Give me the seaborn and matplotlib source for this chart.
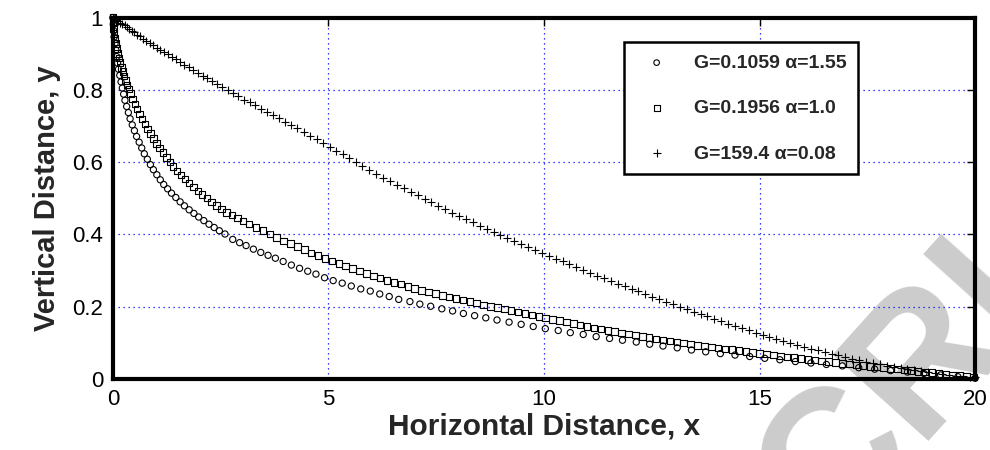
import numpy as np
import pandas as pd
import seaborn as sns
import matplotlib.pyplot as plt

# readings (x = horizontal distance, y = vertical distance)
circ_x = [0.00, 0.01, 0.02, 0.03, 0.05, 0.07, 0.09, 0.11, 0.13, 0.16,
          0.19, 0.22, 0.25, 0.28, 0.32, 0.36, 0.40, 0.45, 0.50, 0.55,
          0.61, 0.67, 0.73, 0.80, 0.87, 0.94, 1.02, 1.10, 1.18, 1.27,
          1.36, 1.46, 1.56, 1.66, 1.77, 1.88, 1.99, 2.11, 2.23, 2.35,
          2.47, 2.60, 2.78, 2.94, 3.09, 3.26, 3.43, 3.60, 3.77, 3.95,
          4.14, 4.33, 4.52, 4.71, 4.91, 5.11, 5.32, 5.53, 5.75, 5.97,
          6.19, 6.41, 6.63, 6.89, 7.12, 7.37, 7.63, 7.88, 8.13, 8.39,
          8.65, 8.91, 9.19, 9.47, 9.75, 10.03, 10.33, 10.61, 10.91, 11.21,
          11.52, 11.82, 12.14, 12.45, 12.76, 13.09, 13.42, 13.75, 14.09, 14.43,
          14.77, 15.12, 15.47, 15.83, 16.19, 16.55, 16.92, 17.30, 17.67, 18.04,
          18.43, 18.81, 19.20, 19.60, 20.00]
circ_y = [1.000, 0.982, 0.964, 0.946, 0.928, 0.910, 0.892, 0.874, 0.857, 0.840,
          0.822, 0.805, 0.788, 0.771, 0.754, 0.737, 0.720, 0.703, 0.687, 0.671,
          0.655, 0.639, 0.623, 0.608, 0.593, 0.579, 0.565, 0.551, 0.538, 0.526,
          0.514, 0.502, 0.490, 0.479, 0.468, 0.458, 0.448, 0.438, 0.428, 0.419,
          0.410, 0.401, 0.386, 0.377, 0.369, 0.359, 0.350, 0.342, 0.334, 0.325,
          0.315, 0.306, 0.298, 0.290, 0.280, 0.272, 0.265, 0.257, 0.249, 0.243,
          0.235, 0.228, 0.220, 0.214, 0.207, 0.201, 0.194, 0.188, 0.181, 0.175,
          0.169, 0.163, 0.157, 0.151, 0.145, 0.139, 0.134, 0.128, 0.123, 0.117,
          0.112, 0.107, 0.102, 0.096, 0.091, 0.086, 0.080, 0.075, 0.070, 0.066,
          0.062, 0.057, 0.053, 0.048, 0.044, 0.040, 0.036, 0.031, 0.027, 0.023,
          0.019, 0.015, 0.011, 0.006, 0.002]

sq_x = [0.00, 0.01, 0.02, 0.03, 0.05, 0.07, 0.09, 0.11, 0.14, 0.17,
        0.20, 0.23, 0.26, 0.29, 0.33, 0.37, 0.41, 0.46, 0.51, 0.56,
        0.62, 0.68, 0.74, 0.80, 0.87, 0.94, 1.01, 1.08, 1.16, 1.24,
        1.32, 1.40, 1.49, 1.58, 1.67, 1.77, 1.87, 1.97, 2.07, 2.18,
        2.29, 2.40, 2.52, 2.64, 2.76, 2.89, 3.02, 3.16, 3.32, 3.48,
        3.64, 3.80, 3.96, 4.12, 4.28, 4.44, 4.60, 4.76, 4.92, 5.08,
        5.24, 5.40, 5.56, 5.72, 5.88, 6.04, 6.20, 6.36, 6.52, 6.68,
        6.84, 7.00, 7.16, 7.32, 7.48, 7.64, 7.80, 7.96, 8.12, 8.28,
        8.44, 8.60, 8.76, 8.92, 9.08, 9.24, 9.40, 9.56, 9.72, 9.88,
        10.04, 10.20, 10.36, 10.52, 10.68, 10.84, 11.00, 11.16, 11.32, 11.48,
        11.64, 11.80, 11.96, 12.12, 12.28, 12.44, 12.60, 12.76, 12.92, 13.08,
        13.24, 13.40, 13.56, 13.72, 13.88, 14.04, 14.20, 14.36, 14.52, 14.68,
        14.84, 15.00, 15.16, 15.32, 15.48, 15.64, 15.80, 15.96, 16.12, 16.28,
        16.44, 16.60, 16.76, 16.92, 17.08, 17.24, 17.40, 17.56, 17.72, 17.88,
        18.04, 18.20, 18.36, 18.52, 18.68, 18.84, 19.00, 19.16, 19.32, 19.48,
        19.64, 19.80, 19.96]
sq_y = [1.000, 0.985, 0.970, 0.956, 0.942, 0.928, 0.914, 0.901, 0.888, 0.875,
        0.862, 0.850, 0.838, 0.826, 0.814, 0.802, 0.790, 0.775, 0.761, 0.747,
        0.733, 0.719, 0.705, 0.692, 0.679, 0.665, 0.652, 0.639, 0.626, 0.613,
        0.600, 0.588, 0.576, 0.564, 0.553, 0.542, 0.531, 0.520, 0.510, 0.500,
        0.490, 0.480, 0.470, 0.461, 0.453, 0.445, 0.437, 0.429, 0.419, 0.410,
        0.401, 0.392, 0.382, 0.374, 0.366, 0.358, 0.349, 0.341, 0.333, 0.326,
        0.319, 0.312, 0.305, 0.298, 0.291, 0.285, 0.279, 0.273, 0.267, 0.262,
        0.256, 0.250, 0.245, 0.241, 0.236, 0.231, 0.227, 0.222, 0.218, 0.214,
        0.210, 0.205, 0.201, 0.197, 0.193, 0.189, 0.185, 0.181, 0.177, 0.173,
        0.169, 0.165, 0.161, 0.157, 0.153, 0.149, 0.145, 0.141, 0.138, 0.134,
        0.131, 0.127, 0.124, 0.121, 0.117, 0.114, 0.111, 0.108, 0.105, 0.102,
        0.099, 0.096, 0.093, 0.091, 0.088, 0.085, 0.083, 0.081, 0.078, 0.076,
        0.073, 0.071, 0.069, 0.066, 0.064, 0.061, 0.059, 0.057, 0.054, 0.052,
        0.050, 0.048, 0.045, 0.043, 0.041, 0.039, 0.037, 0.035, 0.033, 0.031,
        0.029, 0.027, 0.025, 0.023, 0.021, 0.019, 0.017, 0.015, 0.013, 0.011,
        0.009, 0.007, 0.005]

plus_x = [0.00, 0.04, 0.08, 0.12, 0.17, 0.22, 0.27, 0.32, 0.38, 0.44,
          0.50, 0.57, 0.64, 0.71, 0.78, 0.86, 0.94, 1.02, 1.10, 1.19,
          1.28, 1.37, 1.46, 1.56, 1.66, 1.76, 1.86, 1.97, 2.08, 2.19,
          2.30, 2.42, 2.54, 2.66, 2.78, 2.91, 3.04, 3.17, 3.30, 3.44,
          3.58, 3.72, 3.86, 4.00, 4.14, 4.28, 4.43, 4.58, 4.73, 4.88,
          5.03, 5.18, 5.33, 5.48, 5.63, 5.79, 5.95, 6.11, 6.27, 6.43,
          6.59, 6.75, 6.91, 7.07, 7.23, 7.39, 7.55, 7.71, 7.87, 8.03,
          8.19, 8.35, 8.51, 8.67, 8.83, 8.99, 9.15, 9.31, 9.47, 9.63,
          9.79, 9.95, 10.11, 10.27, 10.43, 10.59, 10.75, 10.91, 11.07, 11.23,
          11.39, 11.55, 11.71, 11.87, 12.03, 12.19, 12.35, 12.51, 12.67, 12.83,
          12.99, 13.15, 13.31, 13.47, 13.63, 13.79, 13.95, 14.11, 14.27, 14.43,
          14.59, 14.75, 14.91, 15.07, 15.23, 15.39, 15.55, 15.71, 15.87, 16.03,
          16.19, 16.35, 16.51, 16.67, 16.83, 16.99, 17.15, 17.31, 17.47, 17.63,
          17.79, 17.95, 18.11, 18.27, 18.43, 18.59, 18.75, 18.91, 19.07, 19.23,
          19.39, 19.55, 19.71, 19.87, 20.00]
plus_y = [1.000, 0.997, 0.993, 0.990, 0.986, 0.982, 0.978, 0.974, 0.969, 0.964,
          0.959, 0.953, 0.948, 0.942, 0.936, 0.929, 0.923, 0.917, 0.911, 0.904,
          0.898, 0.891, 0.884, 0.877, 0.870, 0.863, 0.855, 0.847, 0.839, 0.832,
          0.824, 0.816, 0.808, 0.799, 0.791, 0.782, 0.773, 0.765, 0.757, 0.748,
          0.739, 0.730, 0.721, 0.712, 0.703, 0.693, 0.683, 0.673, 0.663, 0.653,
          0.643, 0.632, 0.622, 0.611, 0.600, 0.589, 0.578, 0.567, 0.557, 0.547,
          0.537, 0.527, 0.518, 0.508, 0.498, 0.489, 0.479, 0.469, 0.460, 0.450,
          0.442, 0.433, 0.424, 0.415, 0.406, 0.398, 0.389, 0.381, 0.373, 0.365,
          0.357, 0.349, 0.341, 0.333, 0.325, 0.317, 0.309, 0.301, 0.294, 0.286,
          0.279, 0.271, 0.264, 0.256, 0.249, 0.242, 0.235, 0.228, 0.221, 0.213,
          0.206, 0.200, 0.193, 0.186, 0.180, 0.173, 0.166, 0.160, 0.153, 0.147,
          0.140, 0.134, 0.128, 0.122, 0.116, 0.111, 0.105, 0.100, 0.094, 0.089,
          0.084, 0.080, 0.075, 0.070, 0.065, 0.060, 0.056, 0.052, 0.048, 0.044,
          0.040, 0.036, 0.033, 0.030, 0.027, 0.024, 0.021, 0.018, 0.015, 0.013,
          0.011, 0.009, 0.007, 0.006, 0.004]

labels = ["G=0.1059 α=1.55", "G=0.1956 α=1.0", "G=159.4 α=0.08"]
x_ticks = [0, 5, 10, 15, 20]
y_ticks = [0, 0.2, 0.4, 0.6, 0.8, 1]

circ = pd.DataFrame({"x": circ_x, "y": circ_y})
sq = pd.DataFrame({"x": sq_x, "y": sq_y})
plus = pd.DataFrame({"x": plus_x, "y": plus_y})

sns.set_theme(style="white")
plt.rcParams["font.family"] = ["Liberation Sans", "DejaVu Sans"]

fig = plt.figure(figsize=(9.9, 4.5), dpi=100)
ax = fig.add_axes([0.114, 0.158, 0.871, 0.803])
ax.patch.set_alpha(0)

sns.scatterplot(data=circ, x="x", y="y", ax=ax, marker="o", s=20,
                facecolors="none", edgecolor="black", linewidth=0.8,
                label=labels[0], clip_on=False, zorder=3)
sns.scatterplot(data=sq, x="x", y="y", ax=ax, marker="s", s=22,
                facecolors="none", edgecolor="black", linewidth=0.8,
                label=labels[1], clip_on=False, zorder=3)
sns.scatterplot(data=plus, x="x", y="y", ax=ax, marker="+", s=40,
                color="black", linewidth=0.8,
                label=labels[2], clip_on=False, zorder=3)

ax.set_xlim(0, 20)
ax.set_ylim(0, 1)
ax.set_xticks(x_ticks)
ax.set_yticks(y_ticks)
ax.set_xticklabels([str(t) for t in x_ticks])
ax.set_yticklabels(["0", "0.2", "0.4", "0.6", "0.8", "1"])
ax.grid(True, color="#0000ff", linestyle=(0, (1, 3)), linewidth=0.9)
ax.tick_params(direction="in", length=6, width=1, top=True, right=True,
               labelsize=16, pad=7, colors="black")
for sp in ax.spines.values():
    sp.set_linewidth(3)
    sp.set_color("black")
    sp.set_zorder(4)

ax.set_xlabel("Horizontal Distance, x", fontsize=21.5, fontweight="bold", labelpad=2)
ax.set_ylabel("Vertical Distance, y", fontsize=21, fontweight="bold", labelpad=8)

leg = ax.legend(loc="upper left", bbox_to_anchor=(0.581, 0.958),
                prop={"weight": "bold", "size": 14}, frameon=True,
                fancybox=False, framealpha=1, edgecolor="black",
                labelspacing=1.43, handletextpad=0.8, borderpad=0.6,
                handlelength=2.2, markerscale=0.9)
leg.get_frame().set_linewidth(1.8)

# publisher watermark, partly outside the page edge
fig.text(0.836, -0.21, "CRI", fontsize=135, fontweight="bold", color="#cccccc",
         rotation=48, rotation_mode="anchor", ha="left", va="baseline", zorder=-1)

fig.savefig("out.png", dpi=100, facecolor="white")
